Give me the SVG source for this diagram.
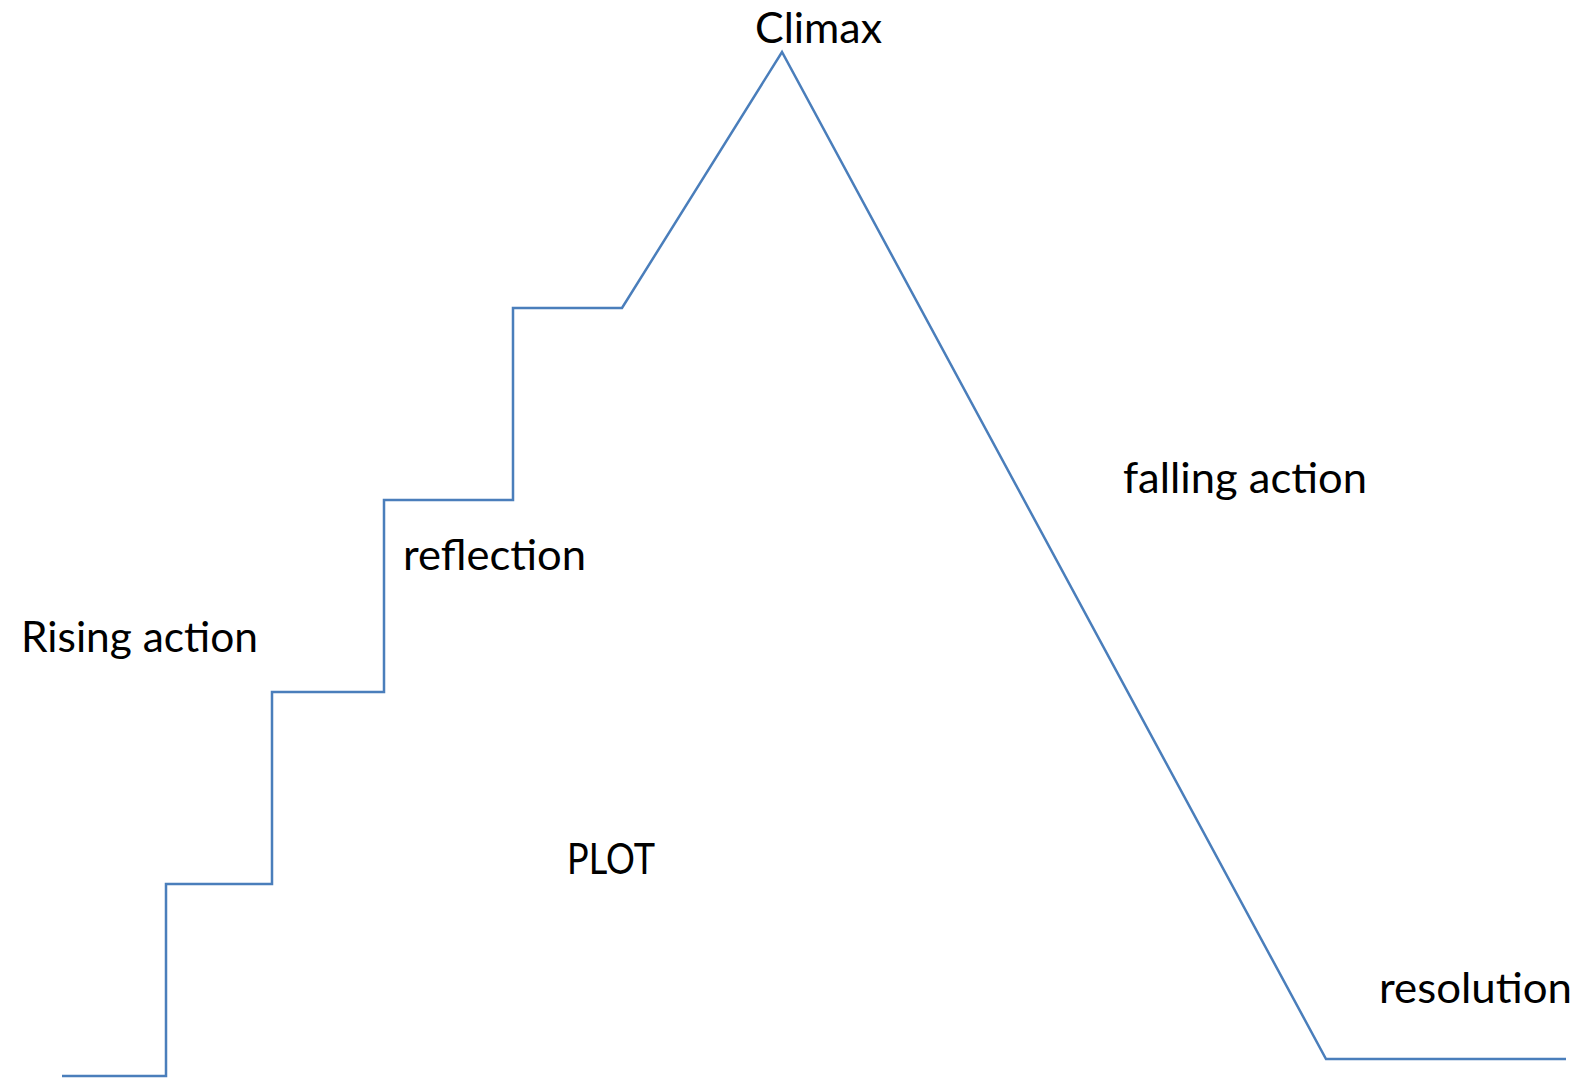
<svg xmlns="http://www.w3.org/2000/svg" width="1579" height="1078" viewBox="0 0 1579 1078">
<style>
.lbl{font-family:Lato,"Open Sans","Liberation Sans",sans-serif;font-size:43px;fill:#000;}
.ln{fill:none;stroke:#4a7ebb;stroke-width:2.5;stroke-linejoin:miter;}
</style>
<rect width="1579" height="1078" fill="#fff"/>
<g id="connectors">
<polyline class="ln" points="62,1076 166,1076 166,884 272,884 272,692 384,692 384,500 513,500 513,308 622,308 782,52 1326,1059 1566,1059"/>
</g>
<g id="climax"><text class="lbl" x="755" y="43" textLength="127" lengthAdjust="spacingAndGlyphs">Climax</text></g>
<g id="falling"><text class="lbl" x="1123" y="493" textLength="244" lengthAdjust="spacingAndGlyphs">falling action</text></g>
<g id="reflection"><text class="lbl" x="403" y="570" textLength="183" lengthAdjust="spacingAndGlyphs">reflection</text></g>
<g id="rising"><text class="lbl" x="21" y="652" textLength="237" lengthAdjust="spacingAndGlyphs">Rising action</text></g>
<g id="plot"><text class="lbl" x="567" y="874" textLength="88" lengthAdjust="spacingAndGlyphs">PLOT</text></g>
<g id="resolution"><text class="lbl" x="1379" y="1003" textLength="193" lengthAdjust="spacingAndGlyphs">resolution</text></g>
</svg>
